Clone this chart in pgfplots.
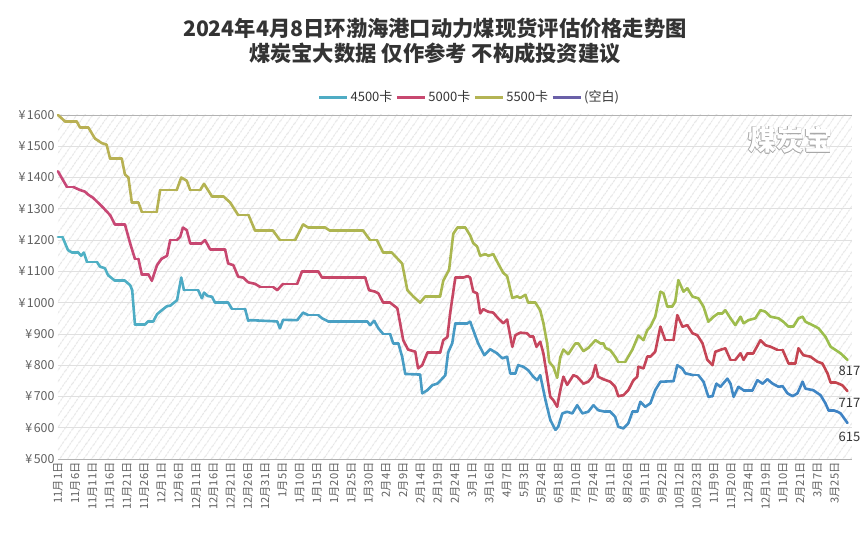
\documentclass[border=0pt]{standalone}
\usepackage{pgfplots}
\pgfplotsset{compat=1.18}
\usepackage{fontspec}
\setmainfont{Noto Sans CJK SC}
\usetikzlibrary{patterns.meta}
\definecolor{cA}{RGB}{79,172,196}
\definecolor{cB}{RGB}{200,72,112}
\definecolor{cC}{RGB}{180,180,84}
\definecolor{cD}{RGB}{106,96,168}
\definecolor{gridc}{RGB}{224,224,224}
\definecolor{hatch}{RGB}{230,230,230}
\definecolor{txt}{RGB}{51,51,51}
\definecolor{tick}{RGB}{96,96,96}
\pgfplotsset{
  colormap={cmA}{rgb255=(80,178,196) rgb255=(62,130,196)},
  colormap={cmB}{rgb255=(200,72,120) rgb255=(196,68,78)},
  colormap={cmC}{rgb255=(186,176,84) rgb255=(154,190,76)},
}
\tikzset{wm/.style={font=\fontsize{28}{28}\selectfont\bfseries, text=black!35}}
\begin{document}
\begin{tikzpicture}
\begin{axis}[
  scale only axis, width=794pt, height=344pt,
  xmin=0, xmax=230, ymin=500, ymax=1600,
  ytick={500,600,...,1600},
  /pgf/number format/assume math mode=true,
  /pgf/number format/1000 sep={},
  yticklabel={¥\hspace{1.5pt}\pgfmathprintnumber{\tick}},
  y tick label style={font=\fontsize{12.4}{13}\selectfont, text=tick},
  xtick={0,5,...,225},
  xticklabels={11月1日,11月6日,11月11日,11月16日,11月21日,11月26日,12月1日,12月6日,12月11日,12月16日,12月21日,12月26日,12月31日,1月5日,1月10日,1月15日,1月20日,1月25日,1月30日,2月4日,2月9日,2月14日,2月19日,2月24日,3月1日,3月16日,4月7日,5月3日,5月24日,6月18日,7月10日,7月24日,8月11日,8月26日,9月11日,9月22日,10月12日,10月23日,11月9日,11月20日,12月4日,12月19日,1月10日,2月21日,3月7日,3月25日},
  x tick label style={rotate=90, anchor=east, font=\fontsize{11.2}{11.2}\selectfont, text=tick},
  major tick length=0pt,
  ymajorgrids, grid style={draw=gridc, line width=0.8pt},
  separate axis lines,
  x axis line style={draw=gridc!80!black, line width=0.8pt},
  y axis line style={draw=none},
  axis background/.style={pattern={Lines[angle=55,distance=6.5pt,line width=1.1pt]}, pattern color=hatch},
  clip=false,
  point meta min=0, point meta max=229,
  legend columns=4,
  legend style={draw=none, fill=none, at={(0.518,1.052)}, anchor=center,
    font=\fontsize{13}{13}\selectfont, text=txt,
    /tikz/every even column/.append style={column sep=1pt}},
  legend image code/.code={\draw[#1, line width=3pt] (0pt,0pt) -- (28pt,0pt);},
]
% 4500
\addplot[mesh, colormap name=cmA, point meta=x, line width=2.6pt, line cap=round, line join=round, forget plot] table {
0 1210
1.3 1210
2.9 1168
4.1 1160
5.9 1160
6.7 1150
7.5 1160
8.4 1130
11.3 1130
12.2 1115
13.6 1110
14.5 1088
16.5 1070
19.4 1070
20.9 1056
21.5 1040
22.3 930
25.2 930
26.1 940
27.6 940
28.7 963
30.1 976
31.6 989
32.5 990
34.5 1008
35.7 1080
36.5 1040
40.6 1040
41.7 1014
42.3 1032
43.4 1021
44.6 1019
45.5 1000
49.3 1000
50.4 980
54.2 980
55.1 942
55.7 944
63.5 940
64.3 918
65.2 945
69.3 944
71 968
72.5 960
75.4 960
76.5 950
78.3 940
89.6 940
90.4 928
91.6 942
92.8 918
94.2 900
96.2 900
97.1 870
98.6 870
99.7 827
100.6 772
104.9 770
105.5 710
107 720
108.4 736
109.9 741
111.3 757
112.2 768
113 840
114.2 870
115.1 934
118.6 934
119.4 939
120.3 912
121.7 870
123.5 832
125.2 851
127.2 838
128.7 822
130.1 827
131 774
132.5 774
133.3 800
134.8 795
136.2 784
137.7 763
138.8 752
139.7 768
141.2 689
142.6 625
144.1 593
144.9 603
146.1 646
147.5 651
149 646
150.4 672
151.9 646
153.6 651
155.1 672
156.5 656
158.6 651
160 651
161.4 635
162.3 603
163.8 598
165.2 614
166.4 651
167.8 651
168.7 683
170.1 667
171.6 678
173 720
174.5 747
178.3 749
179.4 800
180.9 789
181.7 774
184.1 768
185.5 768
187 747
188.4 699
189.6 701
190.7 741
191.9 731
193.9 757
194.8 741
195.7 699
197.1 731
198.6 720
201.2 720
202.6 752
204.1 741
205.5 755
207 741
208.7 731
209.9 733
211.3 710
212.8 701
214.2 710
215.7 747
216.5 725
218.8 720
220.9 704
222.3 678
223.2 656
224.6 656
225.8 651
226.7 646
228.7 615
};
% 5000
\addplot[mesh, colormap name=cmB, point meta=x, line width=2.6pt, line cap=round, line join=round, forget plot] table {
0 1420
1.3 1395
2.6 1370
4.4 1370
6.4 1360
7.8 1355
8.8 1345
10.2 1335
12.8 1307
15.1 1280
16.5 1250
19.4 1250
20.9 1190
22.3 1140
23.3 1140
24.3 1090
26.2 1090
27.2 1070
28.7 1120
30 1140
31.6 1150
32.5 1200
34.4 1200
35.4 1210
36.2 1240
37.3 1232
38.3 1190
41.6 1190
42.6 1200
44.1 1170
48.4 1170
49.3 1125
50.8 1120
52.2 1083
53.7 1080
55.1 1065
57.1 1060
58.6 1050
62.3 1050
63.5 1040
65.2 1060
69.3 1060
70.7 1100
75.4 1100
76.5 1080
89 1080
90.1 1040
91.9 1035
92.8 1030
94.2 1000
96.2 1000
98.3 982
99.1 935
100 880
101.4 850
103.5 843
104.3 790
105.5 800
107 840
110.7 840
111.6 880
112.8 890
113.6 966
115.1 1080
117.4 1080
118.6 1085
119.4 1080
120.3 1035
121.4 1030
122.3 966
123.2 979
124.6 971
126.1 968
127.5 950
129 934
130.1 946
131.6 859
132.5 896
133.9 904
135.9 902
136.8 891
137.7 891
138.6 859
139.7 875
140.6 838
141.7 763
142.6 699
143.5 688
144.6 667
145.5 720
146.4 763
147.5 737
149.3 768
150.4 763
152.2 741
153.6 747
154.8 763
155.7 800
156.5 763
158 755
160 747
161.4 731
162.3 701
163.8 704
165.2 720
166.7 752
167.8 763
168.1 795
169.6 790
170.7 827
171.6 827
173 843
174.5 923
175.9 880
178.3 880
179.4 960
180.9 923
182.3 928
183.8 902
185.2 896
186.7 870
188.1 817
189.6 800
190.4 843
191.9 849
193.3 854
194.8 817
196.2 817
197.7 838
198.6 817
199.7 838
201.4 838
203.5 880
204.9 864
206.4 859
208.4 849
209.9 849
211.6 806
213.6 806
214.5 854
215.9 832
218 827
220 811
221.4 806
222.9 774
223.8 745
225.2 745
227.2 736
228.7 717
};
% 5500
\addplot[mesh, colormap name=cmC, point meta=x, line width=2.6pt, line cap=round, line join=round, forget plot] table {
0 1600
1 1590
2 1580
5.4 1580
6.4 1560
8.8 1560
10.7 1525
12.7 1510
14.1 1505
15.1 1460
18.5 1460
19.4 1410
20.4 1400
21.4 1320
23.3 1320
24.3 1290
28.6 1290
29.6 1360
34.4 1360
35.7 1400
37.3 1390
38.3 1360
41.2 1360
42.3 1380
44.6 1340
47.9 1340
49.9 1320
52.2 1280
55.2 1280
57.1 1230
62.3 1230
64.3 1200
68.7 1200
71 1250
72.5 1240
77.4 1240
78.8 1230
88.4 1230
90.4 1200
92.4 1200
94.2 1160
96.7 1160
99.7 1125
101.2 1040
102.9 1020
104.9 1000
106.4 1020
110.7 1020
111.6 1070
113.3 1105
114.5 1220
115.7 1240
118 1240
119.4 1215
120.3 1190
121.4 1180
122.3 1150
123.8 1155
124.7 1150
126.1 1155
127.5 1125
129 1095
130.1 1085
131.6 1015
133 1020
133.9 1015
135.4 1025
136.2 1000
138.3 1000
139.7 975
140.6 935
141.7 870
142.3 810
143.5 795
144.6 760
145.5 825
146.4 850
147.8 835
149.9 870
150.7 870
152.2 845
153.6 855
155.7 880
157.1 870
158 870
158.6 855
160 848
161.4 827
162.3 810
164.3 810
166.4 850
168.1 895
169.6 880
170.7 912
171.6 923
173 955
174.5 1035
175.4 1030
176.5 987
177.9 987
178.8 1003
179.7 1072
181.2 1035
182.3 1046
183.8 1019
185.5 1014
187 987
188.4 939
189.9 955
191.3 966
192.5 966
193.3 976
194.8 950
196.2 928
197.7 955
198.6 934
200 944
202 950
203.5 976
204.9 971
206.4 955
208.7 950
210.1 939
211.6 923
213 923
214.5 950
215.7 955
216.5 939
218.6 928
220.3 918
222.3 891
223.8 859
225.2 849
226.7 838
228.7 817
};
\addlegendimage{color=cA}\addlegendentry{4500卡}
\addlegendimage{color=cB}\addlegendentry{5000卡}
\addlegendimage{color=cC}\addlegendentry{5500卡}
\addlegendimage{color=cD}\addlegendentry{(空白)}
% end labels
\node[anchor=north, xshift=2pt, yshift=-3pt, font=\fontsize{13}{13}\selectfont, text=txt] at (axis cs:228.7,817) {817};
\node[anchor=north, xshift=2pt, yshift=-4pt, font=\fontsize{13}{13}\selectfont, text=txt] at (axis cs:228.7,717) {717};
\node[anchor=north, xshift=2pt, yshift=-5pt, font=\fontsize{13}{13}\selectfont, text=txt] at (axis cs:228.7,615) {615};
% watermark
\node[wm, xshift=-0.6pt] at (axis description cs:0.922,0.927) {煤炭宝};
\node[wm, xshift=0.6pt] at (axis description cs:0.922,0.927) {煤炭宝};
\node[wm, yshift=0.6pt] at (axis description cs:0.922,0.927) {煤炭宝};
\node[wm, yshift=-0.6pt] at (axis description cs:0.922,0.927) {煤炭宝};
\node[wm, xshift=0.9pt, yshift=-0.9pt] at (axis description cs:0.922,0.927) {煤炭宝};
\node[font=\fontsize{28}{28}\selectfont\bfseries, text=white] at (axis description cs:0.922,0.927) {煤炭宝};
% titles
\node[font=\fontsize{21.3}{23}\selectfont\bfseries, text=txt] at (axis description cs:0.4748,1.2529) {2024年4月8日环渤海港口动力煤现货评估价格走势图};
\node[font=\fontsize{21.3}{23}\selectfont\bfseries, text=txt] at (axis description cs:0.4748,1.1802) {煤炭宝大数据 仅作参考 不构成投资建议};
\path (axis description cs:-0.073,-0.2355) rectangle (axis description cs:1.0189,1.3343);
\end{axis}
\end{tikzpicture}
\end{document}
